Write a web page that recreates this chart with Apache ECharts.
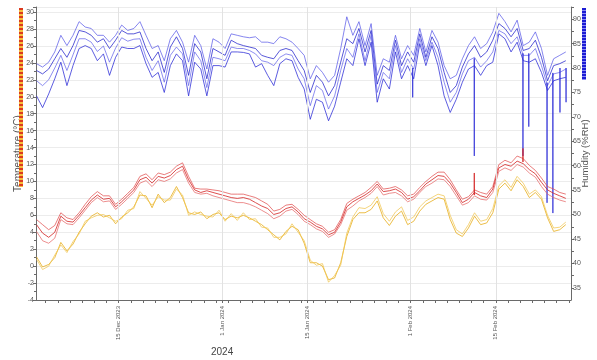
<!DOCTYPE html>
<html>
<head>
<meta charset="utf-8">
<script src="https://cdn.jsdelivr.net/npm/echarts@6/dist/echarts.min.js"></script>
<style>
  html, body { margin: 0; padding: 0; background: #fff; }
  #chart { width: 597px; height: 360px; }
</style>
</head>
<body>
<div id="chart"></div>
<script>
// one reading per day, at noon, from 1 Dec 2023
const DAY = 86400000;
const HOUR = 3600000;
const firstDay = new Date(2023, 11, 1, 12).getTime();

// humidity (%RH), 4 loggers
const hum1 = [80.9,80.2,81.2,83.3,86.7,84.6,86.7,89.5,88.4,88.1, 86.7,86.7,85.3,86.7,88.8,87.7,88.1,89.5,86.7,84.0,
  84.6,81.5,86.0,87.7,85.3,81.2,86.7,84.6,79.8,86.0, 85.3,84.0,87.0,86.7,86.4,86.2,86.4,85.3,85.3,85.0,
  86.4,86.0,85.3,84.0,82.6,77.8,80.5,79.1,77.1,78.5, 84.0,90.5,86.7,89.5,84.6,89.1,78.5,81.9,81.2,86.7,
  81.9,84.6,82.6,88.1,83.3,87.7,85.3,80.5,77.8,78.5, 81.9,84.6,86.4,84.0,85.0,87.4,91.2,89.5,87.4,89.8,
  84.6,85.3,87.4,84.0,78.5,81.9,82.6,83.3];
const hum2 = [79.5,78.8,79.8,81.9,84.0,82.2,84.6,87.7,87.4,86.7, 85.3,86.0,84.0,85.7,87.7,87.0,87.0,87.4,84.0,81.5,
  83.3,79.1,84.3,86.4,84.0,78.5,85.0,83.3,77.8,84.0, 83.3,82.6,85.7,85.0,84.6,84.3,84.0,82.6,82.2,81.9,
  83.6,84.0,83.6,81.5,79.5,75.0,78.5,77.1,74.3,76.4, 81.2,86.0,85.0,88.1,83.3,87.7,76.7,80.5,79.5,85.7,
  80.5,83.3,81.2,87.0,82.2,86.4,84.0,79.1,75.0,76.4, 80.2,82.9,84.6,82.2,83.3,85.7,89.1,88.1,86.4,88.1,
  83.6,84.0,85.7,82.2,77.4,80.5,80.9,81.5];
const hum3 = [77.4,76.4,77.6,80.0,82.6,79.5,82.7,86.0,86.0,85.3, 83.4,84.5,81.2,84.1,86.2,85.5,85.9,86.0,82.2,79.5,
  81.5,77.1,82.6,84.3,82.9,76.4,83.3,81.5,76.0,82.2, 81.9,81.5,84.3,84.0,84.0,83.6,82.9,81.5,81.2,80.5,
  82.2,82.9,82.6,79.8,77.8,72.3,76.4,75.4,71.6,74.3, 79.5,84.0,82.2,87.0,81.5,86.7,75.0,79.1,77.8,84.6,
  79.1,81.9,79.8,86.0,81.5,85.3,82.2,77.1,73.0,75.0, 78.8,81.5,82.2,80.2,81.5,83.3,87.7,87.0,85.0,86.4,
  82.6,82.6,84.0,80.5,76.4,78.8,79.1,79.8];
const hum4 = [74.3,71.9,74.7,77.8,81.2,76.4,80.5,84.0,84.6,84.0, 81.5,82.9,78.5,82.2,84.3,84.0,84.0,84.6,80.9,78.1,
  79.1,75.0,80.5,82.9,81.5,74.3,81.2,79.8,74.3,80.5, 80.5,80.2,83.3,83.3,83.2,82.9,80.2,80.9,78.5,76.4,
  80.9,81.9,81.5,78.1,75.7,69.5,73.6,73.0,69.2,72.2, 77.1,81.9,80.5,86.0,80.5,85.3,73.0,77.8,75.7,83.3,
  77.8,80.5,77.8,85.0,80.5,84.6,80.5,74.3,70.9,73.6, 77.1,79.8,80.5,78.5,80.5,81.2,87.0,86.0,83.3,85.3,
  81.5,81.2,81.9,79.1,75.4,77.4,77.8,78.1];

// short drops in humidity
const humDropTimes = [new Date(2024, 1, 1, 8), new Date(2024, 1, 11, 11), new Date(2024, 1, 19, 11), new Date(2024, 1, 20, 10),
  new Date(2024, 1, 23, 10), new Date(2024, 1, 24, 9), new Date(2024, 1, 25, 13), new Date(2024, 1, 26, 13)];
const humDropFrom = [80.0, 82.0, 83.0, 83.0, 77.0, 79.0, 80.0, 80.0];
const humDropTo = [74.0, 62.0, 62.0, 68.0, 52.4, 50.3, 70.9, 73.0];

// temperature (°C), inside loggers
const temp1 = [5.5,4.9,4.3,4.8,6.3,5.7,5.5,6.3,7.3,8.2, 8.8,8.3,8.3,7.3,7.9,8.6,9.3,10.6,10.9,10.2,
  11.0,10.8,11.1,11.8,12.2,10.6,9.2,9.1,9.1,9.0, 8.9,8.7,8.5,8.5,8.5,8.3,8.1,7.7,7.3,6.5,
  6.7,7.2,7.3,6.7,6.0,5.5,5.0,4.7,4.0,4.3, 5.5,7.4,7.9,8.3,8.7,9.3,10.0,9.1,9.2,9.4,
  9.0,8.3,8.5,9.3,10.0,10.6,11.1,11.1,10.2,9.0, 7.9,8.2,9.0,8.7,8.5,9.4,12.0,12.5,12.2,13.0,
  12.7,11.9,11.3,10.4,9.4,9.1,8.7,8.5];
const temp2 = [4.9,3.9,3.4,4.0,5.9,5.3,5.2,6.0,6.9,7.8, 8.4,7.9,8.0,7.0,7.6,8.3,9.0,10.2,10.5,9.8,
  10.6,10.4,10.7,11.4,11.8,10.2,9.0,8.7,8.9,8.7, 8.5,8.3,8.1,8.0,8.1,7.9,7.5,7.1,6.8,6.1,
  6.3,6.8,7.0,6.4,5.6,5.2,4.7,4.4,3.7,4.0, 5.2,7.0,7.6,8.0,8.4,8.9,9.7,8.8,8.9,9.1,
  8.7,7.9,8.2,8.9,9.7,10.2,10.7,10.6,9.8,8.7, 7.5,7.9,8.7,8.3,8.1,9.1,11.6,12.0,11.8,12.4,
  12.1,11.4,10.9,9.9,9.0,8.6,8.3,8.0];
const temp3 = [4.1,3.0,2.7,3.3,5.5,5.0,4.9,5.7,6.6,7.5, 8.1,7.6,7.7,6.7,7.3,8.0,8.7,9.8,10.1,9.4,
  10.2,10.0,10.3,11.0,11.4,9.8,8.7,8.5,8.6,8.3, 8.1,7.9,7.7,7.5,7.5,7.3,7.0,6.6,6.2,5.6,
  5.9,6.5,6.7,6.1,5.3,4.9,4.4,4.1,3.4,3.8, 4.9,6.6,7.1,7.7,8.1,8.6,9.4,8.4,8.6,8.7,
  8.3,7.6,7.9,8.7,9.4,9.8,10.3,10.2,9.4,8.3, 7.2,7.5,8.3,7.9,7.8,8.7,11.2,11.6,11.3,12.0,
  11.7,11.0,10.5,9.4,8.5,8.1,7.8,7.6];

// short rises in temperature
const tempJumpTimes = [new Date(2024, 1, 11, 11), new Date(2024, 1, 19, 11)];
const tempJumpFrom = [8.4, 12.3];
const tempJumpTo = [11.0, 13.9];

// temperature (°C), outside loggers
const outTemp1 = [1.1,-0.1,0.2,1.0,2.8,1.8,2.6,4.0,5.0,5.9, 6.3,5.8,6.0,5.0,5.8,6.3,7.0,8.4,8.3,6.9,
  8.5,7.5,8.1,9.4,8.1,6.3,6.1,6.4,5.6,6.1, 6.3,5.5,5.9,5.7,6.0,5.7,5.3,4.9,4.3,3.7,
  3.1,4.1,4.7,4.3,2.7,0.4,0.4,0.0,-1.6,-1.4, 0.4,3.5,5.5,6.3,6.3,6.7,7.7,5.7,4.8,5.9,
  6.5,4.9,5.3,6.5,7.3,7.7,8.1,7.9,5.5,3.9, 3.5,4.5,5.9,4.9,5.1,6.3,9.1,9.8,8.9,10.2,
  9.4,8.1,8.7,7.9,5.7,4.1,4.3,4.9];
const outTemp2 = [0.8,-0.4,0.0,1.3,2.5,1.6,2.9,3.8,5.3,5.7, 6.0,6.1,5.7,5.3,5.6,6.6,6.8,8.8,8.0,7.2,
  8.2,7.8,7.8,9.1,8.4,6.0,6.4,6.1,5.9,5.8, 6.6,5.3,6.2,5.4,6.3,5.5,5.6,4.6,4.5,3.4,
  3.4,3.8,5.0,4.0,3.0,0.7,0.1,0.3,-1.9,-1.1, 0.1,3.9,5.8,6.9,6.8,7.2,8.2,6.2,5.3,6.4,
  7.0,5.4,5.8,7.0,7.7,8.1,8.5,8.3,6.0,4.3, 3.8,4.9,6.3,5.3,5.5,6.8,9.5,10.2,9.3,10.6,
  9.8,8.5,9.0,8.2,6.0,4.5,4.6,5.2];

// dated ticks on the time axis
const labelDates = [new Date(2023, 11, 15), new Date(2024, 0, 1), new Date(2024, 0, 15), new Date(2024, 1, 1), new Date(2024, 1, 15)];
const humLabels = [35, 40, 45, 50, 55, 60, 65, 70, 75, 80, 85, 90];
const humTicks = [35, 37.5, 40, 42.5, 45, 47.5, 50, 52.5, 55, 57.5, 60, 62.5, 65, 67.5, 70, 72.5, 75, 77.5, 80, 82.5, 85, 87.5, 90, 92.5];
const monthNames = ['Jan', 'Feb', 'Mar', 'Apr', 'May', 'Jun', 'Jul', 'Aug', 'Sep', 'Oct', 'Nov', 'Dec'];

const pairs = (vals) => vals.map((v, i) => [firstDay + i * DAY, v]);
const jumps = (times, from, to) => {
    const out = [];
    times.forEach((t, i) => {
        const ms = t.getTime();
        out.push([ms - HOUR, from[i]], [ms, to[i]], [ms + HOUR, from[i]], [ms + HOUR, '-']);
    });
    return out;
};

const dateTicks = [];
for (let t = new Date(2023, 11, 1).getTime(); t < new Date(2024, 1, 28).getTime(); t += 2 * DAY) {
    dateTicks.push(t);
}
labelDates.forEach(d => dateTicks.push(d.getTime()));

const axisGrey = '#6a6a6a';
const fontFamily = 'Liberation Sans, Arial, sans-serif';
const labelFont = { color: '#555', fontSize: 7, fontFamily: fontFamily };

const line = (name, data, color, yIndex, opacity) => ({
    name: name,
    type: 'line',
    yAxisIndex: yIndex,
    data: data,
    showSymbol: false,
    symbol: 'none',
    connectNulls: false,
    lineStyle: { color: color, width: 0.9, opacity: opacity },
    itemStyle: { color: color },
    emphasis: { disabled: true },
    z: 3
});

const chart = echarts.init(document.getElementById('chart'), null, { renderer: 'canvas' });

chart.setOption({
    backgroundColor: '#ffffff',
    animation: false,
    grid: { left: 36, right: 26, top: 7, bottom: 60, containLabel: false, outerBoundsMode: 'none' },
    xAxis: {
        // dates as milliseconds on a value axis, so ticks can be placed freely
        type: 'value',
        min: new Date(2023, 11, 1, 10).getTime(),
        max: new Date(2024, 1, 27, 8, 30).getTime(),
        axisLine: { show: true, onZero: false, lineStyle: { color: axisGrey, width: 1 } },
        axisTick: { show: true, length: 3, customValues: dateTicks, lineStyle: { color: axisGrey } },
        axisLabel: {
            ...labelFont,
            fontSize: 6,
            rotate: 90,
            margin: 6,
            customValues: labelDates.map(d => d.getTime()),
            formatter: (v) => {
                const d = new Date(v);
                return d.getDate() + ' ' + monthNames[d.getMonth()] + ' ' + d.getFullYear();
            }
        },
        splitLine: { show: false }
    },
    yAxis: [
        {
            type: 'value',
            position: 'left',
            min: -4,
            max: 30.6,
            interval: 2,
            name: 'Temperature (°C)',
            nameLocation: 'middle',
            nameGap: 13,
            nameMoveOverlap: false,
            nameTextStyle: { color: '#555', fontSize: 10, fontFamily: fontFamily },
            axisLine: { show: true, lineStyle: { color: axisGrey } },
            axisTick: { show: true, length: 3, lineStyle: { color: axisGrey } },
            minorTick: { show: true, splitNumber: 2, length: 2, lineStyle: { color: axisGrey } },
            axisLabel: { ...labelFont, margin: 2, showMaxLabel: false },
            splitLine: { show: true, lineStyle: { color: '#ececec', width: 1 } }
        },
        {
            type: 'value',
            position: 'right',
            min: 32.5,
            max: 92.5,
            name: 'Humidity (%RH)',
            nameLocation: 'middle',
            nameGap: 9,
            nameMoveOverlap: false,
            nameTextStyle: { color: '#555', fontSize: 9.5, fontFamily: fontFamily, padding: [0, 0, 0, 0] },
            axisLine: { show: true, lineStyle: { color: axisGrey } },
            axisTick: { show: true, length: 3, customValues: humTicks, lineStyle: { color: axisGrey } },
            axisLabel: { ...labelFont, margin: 2, customValues: humLabels },
            splitLine: { show: false }
        }
    ],
    series: [
        {
            ...line('Grid', [], '#ddd', 0, 1),
            z: 1,
            markLine: {
                silent: true,
                symbol: 'none',
                label: { show: false },
                lineStyle: { color: '#e2e2e2', type: 'solid', width: 1 },
                data: labelDates.map(d => ({ xAxis: d.getTime() }))
            }
        },
        line('Humidity 1', pairs(hum1), '#4a4ae6', 1, 0.75),
        line('Humidity 2', pairs(hum2), '#2323cc', 1, 0.85),
        line('Humidity 3', pairs(hum3), '#5656e8', 1, 0.75),
        line('Humidity 4', pairs(hum4), '#2a2ad6', 1, 0.85),
        line('Humidity drops', jumps(humDropTimes, humDropFrom, humDropTo), '#2a2ad6', 1, 0.85),
        line('Temperature 1', pairs(temp1), '#e04848', 0, 0.8),
        line('Temperature 2', pairs(temp2), '#d42424', 0, 0.9),
        line('Temperature 3', pairs(temp3), '#e46262', 0, 0.8),
        line('Temperature jumps', jumps(tempJumpTimes, tempJumpFrom, tempJumpTo), '#d42424', 0, 0.9),
        line('Outside 1', pairs(outTemp1), '#e8ae1e', 0, 0.9),
        line('Outside 2', pairs(outTemp2), '#f0c654', 0, 0.85)
    ],
    graphic: [
        { type: 'rect', left: 19, top: 8, shape: { width: 4, height: 179 }, style: { fill: '#f6bd3c' }, z: 10 },
        { type: 'line', shape: { x1: 21, y1: 8, x2: 21, y2: 187 }, style: { stroke: '#dc3a1e', lineWidth: 4, lineDash: [2, 2] }, z: 11 },
        { type: 'rect', left: 582, top: 8, shape: { width: 4, height: 72 }, style: { fill: '#8c8cf4' }, z: 10 },
        { type: 'line', shape: { x1: 584, y1: 8, x2: 584, y2: 80 }, style: { stroke: '#1c1cd4', lineWidth: 4, lineDash: [2, 1] }, z: 11 },
        { type: 'text', left: 211, top: 347, style: { text: '2024', fill: '#444', fontSize: 10, fontFamily: fontFamily }, z: 10 }
    ]
});
</script>
</body>
</html>
